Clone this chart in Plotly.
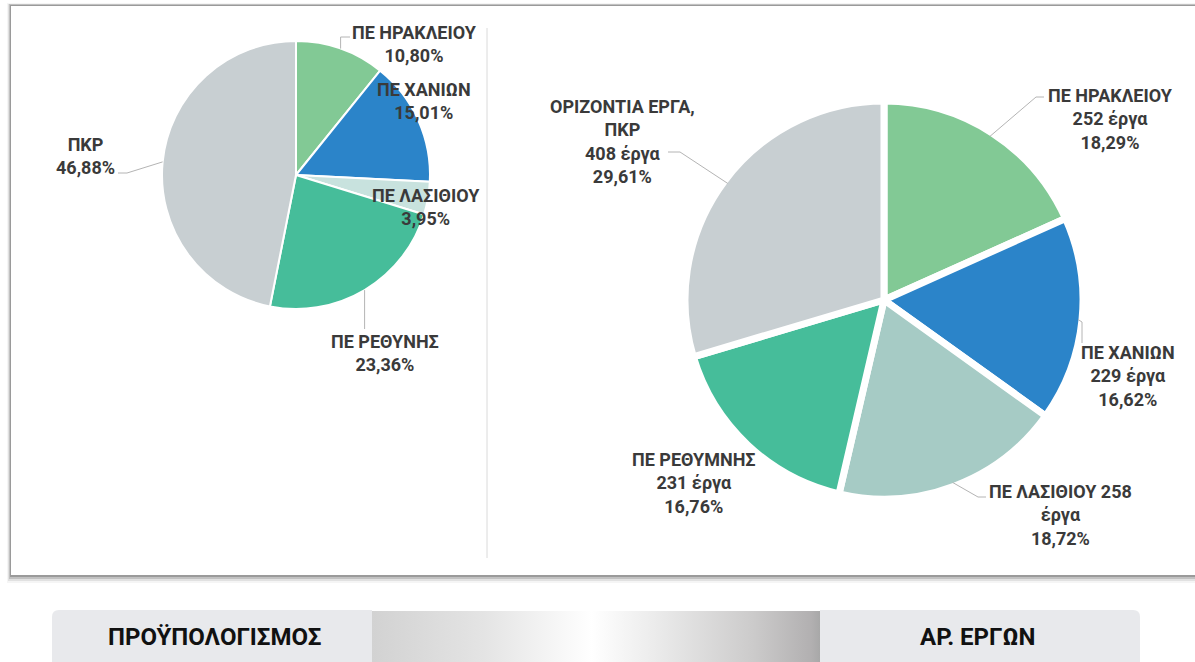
import math
import plotly.graph_objects as go

W, H = 1195, 662

# Budget share per regional unit (left pie)
left_labels = ['ΠΕ ΗΡΑΚΛΕΙΟΥ', 'ΠΕ ΧΑΝΙΩΝ', 'ΠΕ ΛΑΣΙΘΙΟΥ', 'ΠΕ ΡΕΘΥΝΗΣ', 'ΠΚΡ']
left_pct = [10.80, 15.01, 3.95, 23.36, 46.88]
left_colors = ['#82C995', '#2B84C9', '#C8E2DE', '#46BD9A', '#C8CFD2']

# Number of projects per regional unit (right pie)
right_labels = ['ΠΕ ΗΡΑΚΛΕΙΟΥ', 'ΠΕ ΧΑΝΙΩΝ', 'ΠΕ ΛΑΣΙΘΙΟΥ', 'ΠΕ ΡΕΘΥΜΝΗΣ', 'ΟΡΙΖΟΝΤΙΑ ΕΡΓΑ, ΠΚΡ']
right_counts = [252, 229, 258, 231, 408]
right_colors = ['#82C995', '#2B84C9', '#A6CBC5', '#46BD9A', '#C8CFD2']
# how each right label is broken over lines ({n} = count)
right_text_tpl = ['ΠΕ ΗΡΑΚΛΕΙΟΥ<br>{n} έργα', 'ΠΕ ΧΑΝΙΩΝ<br>{n} έργα', 'ΠΕ ΛΑΣΙΘΙΟΥ {n}<br>έργα',
                  'ΠΕ ΡΕΘΥΜΝΗΣ<br>{n} έργα', 'ΟΡΙΖΟΝΤΙΑ ΕΡΓΑ,<br>ΠΚΡ<br>{n} έργα']

tab_labels = ['ΠΡΟΫΠΟΛΟΓΙΣΜΟΣ', 'ΑΡ. ΕΡΓΩΝ']

# pie geometry in pixels
L_CX, L_CY, L_R = 296, 175, 134
R_CX, R_CY, R_R = 884, 300, 199

# label block centres (pixels)
left_pos = [(414, 44), (424, 101), (426, 207), (385, 353), (85, 156)]
right_pos = [(1110, 119), (1128, 376), (1060, 515), (694, 483), (622, 141)]

LABEL_FONT = dict(family='Roboto, Liberation Sans, sans-serif', size=18, color='#3A3A3A')


def pct_str(v):
    return f'{v:.2f}'.replace('.', ',') + '%'


def domain(cx, cy, r):
    return dict(x=[(cx - r) / W, (cx + r) / W], y=[1 - (cy + r) / H, 1 - (cy - r) / H])


def edge_point(values, i, cx, cy, r):
    tot = sum(values)
    mid = (sum(values[:i]) + values[i] / 2) / tot * 2 * math.pi
    return cx + r * math.sin(mid), cy - r * math.cos(mid)


fig = go.Figure()

# metallic gradient strip in the tab bar
fig.add_trace(go.Scatter(
    x=[372, 820, 820, 372, 372], y=[611, 611, 670, 670, 611],
    mode='lines', fill='toself', line=dict(width=0),
    fillgradient=dict(type='horizontal', colorscale=[
        [0, '#D2D2D2'], [0.25, '#E4E4E4'], [0.49, '#FFFFFF'], [0.62, '#EDEDED'],
        [0.85, '#CCCBCB'], [0.98, '#B2B0B1'], [1, '#A8A8A8']]),
    hoverinfo='skip', showlegend=False))

fig.add_trace(go.Pie(
    labels=left_labels, values=left_pct, sort=False, direction='clockwise', rotation=0,
    marker=dict(colors=left_colors, line=dict(color='white', width=2)),
    textinfo='none', hoverinfo='label+percent', domain=domain(L_CX, L_CY, L_R),
    showlegend=False))

fig.add_trace(go.Pie(
    labels=right_labels, values=right_counts, sort=False, direction='clockwise', rotation=0,
    marker=dict(colors=right_colors, line=dict(color='white', width=7)),
    textinfo='none', hoverinfo='label+value+percent', domain=domain(R_CX, R_CY, R_R),
    showlegend=False))

shapes = []
# panel with soft shadow (heavier along the bottom)
for x0, y0, y1, a in [(7, 3, 583, 0.04), (8, 4, 581, 0.08), (9, 4, 579, 0.14), (10, 5, 577, 0.2)]:
    shapes.append(dict(type='rect', xref='x', yref='y', x0=x0, y0=y0, x1=1210, y1=y1,
                       fillcolor=f'rgba(0,0,0,{a})', line=dict(width=0), layer='below'))
shapes.append(dict(type='rect', xref='x', yref='y', x0=11, y0=6, x1=1210, y1=575,
                   fillcolor='white', line=dict(width=0), layer='below'))
# divider
shapes.append(dict(type='line', xref='x', yref='y', x0=487, y0=28, x1=487, y1=558,
                   line=dict(color='#DADADA', width=1)))
# tabs with rounded outer corners
shapes.append(dict(type='path', xref='x', yref='y', layer='below',
                   path='M 52,670 L 52,617 Q 52,610 59,610 L 372,610 L 372,670 Z',
                   fillcolor='#E8E9EC', line=dict(width=0)))
shapes.append(dict(type='path', xref='x', yref='y', layer='below',
                   path='M 820,670 L 820,610 L 1133,610 Q 1140,610 1140,617 L 1140,670 Z',
                   fillcolor='#E8E9EC', line=dict(width=0)))

# leader lines: start at slice edge, elbow to label
def leader(values, i, cx, cy, r, pts):
    ex, ey = edge_point(values, i, cx, cy, r)
    pts = [(ex if p[0] is None else p[0], p[1]) for p in pts]
    path = f'M {ex:.1f},{ey:.1f} ' + ' '.join(f'L {px:.1f},{py:.1f}' for px, py in pts)
    shapes.append(dict(type='path', xref='x', yref='y', path=path,
                       line=dict(color='#B4B4B4', width=1)))

leader(left_pct, 0, L_CX, L_CY, L_R, [(None, 37), (350, 37)])
leader(left_pct, 3, L_CX, L_CY, L_R, [(None, 329)])
leader(left_pct, 4, L_CX, L_CY, L_R, [(127, 173), (118, 173)])
leader(right_counts, 0, R_CX, R_CY, R_R - 4, [(1036, 97), (1044, 97)])
leader(right_counts, 1, R_CX, R_CY, R_R - 4, [(1082, 322), (1082, 343)])
leader(right_counts, 2, R_CX, R_CY, R_R - 4, [(978, 497), (986, 497)])
leader(right_counts, 4, R_CX, R_CY, R_R - 4, [(680, 152), (668, 152)])

annotations = []
for lab, v, (x, y) in zip(left_labels, left_pct, left_pos):
    annotations.append(dict(xref='x', yref='y', x=x, y=y, showarrow=False,
                            text=f'<b>{lab}<br>{pct_str(v)}</b>', font=LABEL_FONT, align='center'))
tot = sum(right_counts)
for tpl, n, (x, y) in zip(right_text_tpl, right_counts, right_pos):
    annotations.append(dict(xref='x', yref='y', x=x, y=y, showarrow=False,
                            text='<b>' + tpl.format(n=n) + '<br>' + pct_str(n / tot * 100) + '</b>',
                            font=LABEL_FONT, align='center'))
for lab, x in zip(tab_labels, [214, 978]):
    annotations.append(dict(xref='x', yref='y', x=x, y=637, showarrow=False, text=f'<b>{lab}</b>',
                            font=dict(family='Liberation Sans Narrow, Roboto, sans-serif',
                                      size=24, color='#111111')))

fig.update_layout(
    width=W, height=H,
    margin=dict(l=0, r=0, t=0, b=0),
    paper_bgcolor='white', plot_bgcolor='rgba(0,0,0,0)',
    xaxis=dict(range=[0, W], visible=False, fixedrange=True, domain=[0, 1]),
    yaxis=dict(range=[H, 0], visible=False, fixedrange=True, domain=[0, 1]),
    shapes=shapes, annotations=annotations,
)

# drop the page's default body margin so the figure sits at the window origin
fig.write_html('out.html', config={'displayModeBar': False},
               post_script="document.body.style.margin='0';")
